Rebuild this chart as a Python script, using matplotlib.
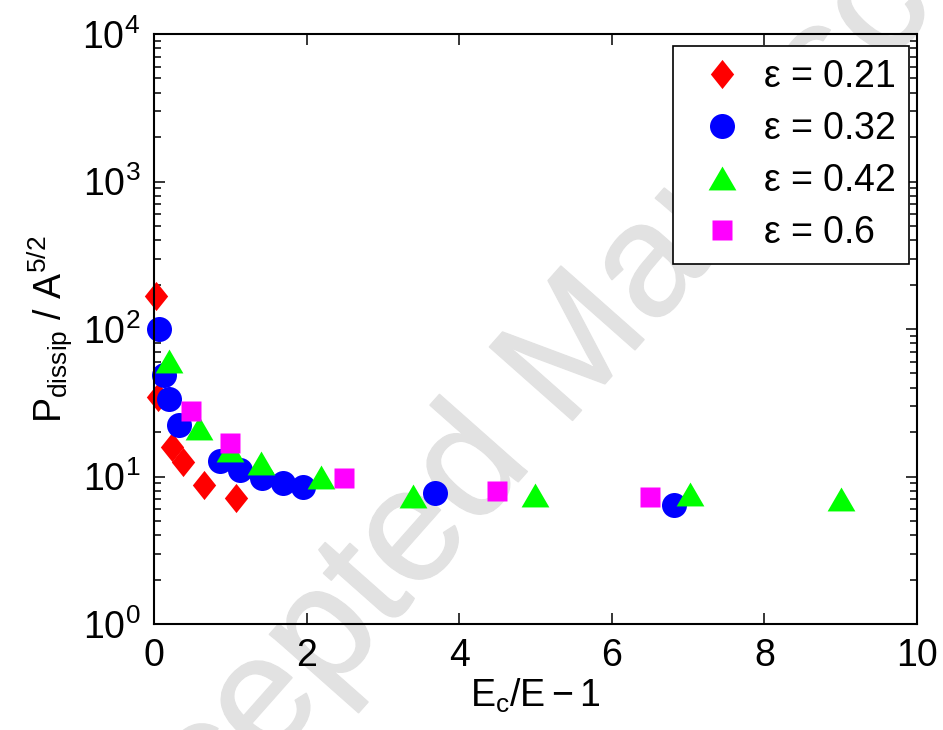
import numpy as np
import matplotlib
matplotlib.use("Agg")
import matplotlib.pyplot as plt
import matplotlib.patheffects as pe
from matplotlib.ticker import LogLocator, NullFormatter

plt.rcParams['font.family'] = ['Liberation Sans', 'DejaVu Sans']
plt.rcParams['mathtext.fontset'] = 'custom'
plt.rcParams['mathtext.rm'] = 'Liberation Sans'
plt.rcParams['mathtext.it'] = 'Liberation Sans'
plt.rcParams['mathtext.default'] = 'regular'

# dissipated power vs distance from critical field, one series per eps
x_021 = [0.03, 0.05, 0.23, 0.38, 0.66, 1.07]
p_021 = [167, 34.8, 15.9, 12.6, 8.76, 7.18]

x_032 = [0.07, 0.135, 0.2, 0.33, 0.86, 1.13, 1.41, 1.69, 1.95, 3.68, 6.81]
p_032 = [100, 48.7, 33.5, 22.4, 12.8, 11.1, 9.72, 9.0, 8.45, 7.77, 6.38]

x_042 = [0.2, 0.59, 1.0, 1.40, 2.19, 3.40, 5.0, 7.03, 9.0]
p_042 = [60.7, 21.3, 15.1, 12.4, 9.97, 7.38, 7.53, 7.61, 7.04]

x_06 = [0.49, 1.0, 2.49, 4.5, 6.5]
p_06 = [27.8, 16.8, 9.72, 7.97, 7.22]

labels = [r'$\mathregular{\varepsilon}$ = 0.21', r'$\mathregular{\varepsilon}$ = 0.32',
          r'$\mathregular{\varepsilon}$ = 0.42', r'$\mathregular{\varepsilon}$ = 0.6']

# matlab-ish marker shapes
diamond = [(0, 1), (0.8, 0), (0, -1), (-0.8, 0), (0, 1)]
triangle = [(0, 0.86), (1, -0.86), (-1, -0.86), (0, 0.86)]

fig = plt.figure(figsize=(9.43, 7.3), dpi=100)

# faint watermark, kept underneath the axes
wm = fig.text(0.59, 0.485, 'Accepted Manuscript', fontsize=116,
              color='#e2e2e2', rotation=48.5, ha='center', va='center', zorder=-5)
wm.set_path_effects([pe.withStroke(linewidth=1.2, foreground='#e2e2e2')])

ax = fig.add_axes([0.1633, 0.1452, 0.8091, 0.8082])
ax.patch.set_alpha(0)

kw = dict(ls='none', mec='none', clip_on=False)
ax.plot(x_021, p_021, marker=diamond, ms=21, color='#ff0000', label=labels[0], **kw)
ax.plot(x_032, p_032, marker='o', ms=18, color='#0000ff', label=labels[1], **kw)
ax.plot(x_042, p_042, marker=triangle, ms=20, color='#00ff00', label=labels[2], **kw)
ax.plot(x_06, p_06, marker='s', ms=14.5, color='#ff00ff', label=labels[3], **kw)

ax.set_yscale('log')
ax.set_xlim(0, 10)
ax.set_ylim(1, 1e4)
ax.set_xticks([0, 2, 4, 6, 8, 10])
ax.yaxis.set_major_locator(LogLocator(base=10, numticks=10))
ax.yaxis.set_minor_locator(LogLocator(base=10, subs=np.arange(2, 10), numticks=10))
ax.yaxis.set_minor_formatter(NullFormatter())

ax.tick_params(which='both', direction='in', top=True, right=True, labelsize=27, width=1.1)
ax.tick_params(which='major', length=8, pad=10)
ax.tick_params(which='minor', length=5)
for s in ax.spines.values():
    s.set_linewidth(1.5)

ax.set_xlabel(r'$\mathregular{E_c/E - 1}$', fontsize=27, labelpad=2)
ax.set_ylabel(r'$\mathregular{P_{dissip}\ /\ A^{5/2}}$', fontsize=27, labelpad=6)

leg = ax.legend(loc='upper right', bbox_to_anchor=(0.989, 0.98), fontsize=27, numpoints=1,
                fancybox=False, framealpha=1, edgecolor='black', handlelength=1.9,
                handletextpad=0.15, labelspacing=0.43, borderpad=0.35, borderaxespad=0)
leg.get_frame().set_linewidth(1.2)

fig.savefig('out.png', dpi=100)
